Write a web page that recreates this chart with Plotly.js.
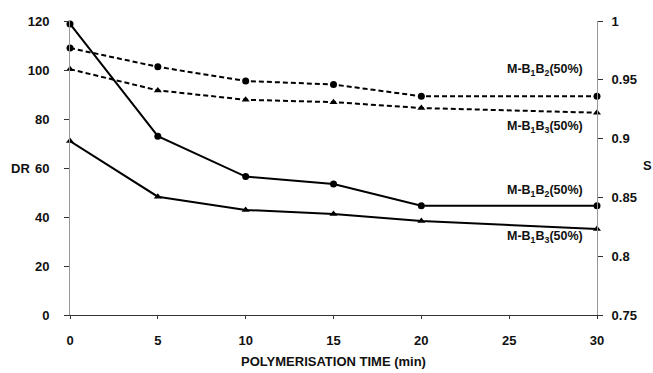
<!DOCTYPE html>
<html>
<head>
<meta charset="utf-8">
<script src="https://cdn.plot.ly/plotly-3.0.1.min.js"></script>
<style>html,body{margin:0;padding:0;background:#fff;}#chart{width:653px;height:373px;}</style>
</head>
<body>
<div id="chart"></div>
<script>
// Polymerisation time (min)
const timeMin = [0, 5, 10, 15, 20, 30];
// DR (left axis, solid lines)
const drB1B2 = [118.8, 73, 56.5, 53.5, 44.6, 44.6];
const drB1B3 = [71, 48.3, 42.9, 41.2, 38.4, 35.1];
// S (right axis, dashed lines)
const sB1B2 = [0.977, 0.961, 0.949, 0.946, 0.936, 0.936];
const sB1B3 = [0.959, 0.941, 0.933, 0.931, 0.926, 0.922];
const xTicks = [0, 5, 10, 15, 20, 25, 30];
const yTicksLeft = [0, 20, 40, 60, 80, 100, 120];
const yTicksRight = [0.75, 0.8, 0.85, 0.9, 0.95, 1];
const labelB1B2 = 'M-B<sub>1</sub>B<sub>2</sub>(50%)';
const labelB1B3 = 'M-B<sub>1</sub>B<sub>3</sub>(50%)';

const fam = 'Liberation Sans, Arial, sans-serif';
const tickFnt = {family: fam, size: 13, color: '#111', weight: 'bold'};
const annFnt = {family: fam, size: 12.5, color: '#111', weight: 'bold'};
const titleFnt = {family: fam, size: 13, color: '#111', weight: 'bold'};

const traces = [
  {x: timeMin, y: drB1B2, mode: 'lines+markers', line: {color: '#000', width: 2},
   marker: {symbol: 'circle', size: 7, color: '#000'}, cliponaxis: false, yaxis: 'y'},
  {x: timeMin, y: drB1B3, mode: 'lines+markers', line: {color: '#000', width: 2},
   marker: {symbol: 'triangle-up', size: 7, color: '#000'}, cliponaxis: false, yaxis: 'y'},
  {x: timeMin, y: sB1B2, mode: 'lines+markers', line: {color: '#000', width: 2, dash: '5px,3px'},
   marker: {symbol: 'circle', size: 7, color: '#000'}, cliponaxis: false, yaxis: 'y2'},
  {x: timeMin, y: sB1B3, mode: 'lines+markers', line: {color: '#000', width: 2, dash: '5px,3px'},
   marker: {symbol: 'triangle-up', size: 7, color: '#000'}, cliponaxis: false, yaxis: 'y2'}
];

const ann = (txt, yv) => ({x: 30, y: yv, xref: 'x', yref: 'y', text: txt, showarrow: false,
  xanchor: 'right', yanchor: 'middle', xshift: -12, font: annFnt});

const layout = {
  width: 653, height: 373,
  margin: {l: 70, r: 56, t: 21, b: 58},
  paper_bgcolor: '#fff', plot_bgcolor: '#fff',
  showlegend: false,
  font: tickFnt,
  xaxis: {range: [0, 30], tickvals: xTicks, ticktext: xTicks.map(String),
    showgrid: false, zeroline: false, showline: true, linecolor: '#333', linewidth: 1,
    ticks: 'outside', ticklen: 3, tickcolor: '#333', tickfont: tickFnt, ticklabelstandoff: 10,
    title: {text: 'POLYMERISATION TIME (min)', font: titleFnt, standoff: 10}},
  yaxis: {range: [0, 120], tickvals: yTicksLeft, showgrid: false, zeroline: false,
    showline: true, linecolor: '#999', linewidth: 1, ticks: 'outside', ticklen: 5, tickcolor: '#333',
    tickfont: tickFnt, ticklabelstandoff: 12, title: {text: ''}},
  yaxis2: {range: [0.75, 1], tickvals: yTicksRight, ticktext: ['0.75','0.8','0.85','0.9','0.95','1'],
    overlaying: 'y', side: 'right', showgrid: false, zeroline: false,
    showline: true, linecolor: '#999', linewidth: 1, ticks: 'outside', ticklen: 5, tickcolor: '#333',
    tickfont: tickFnt, ticklabelstandoff: 6, title: {text: ''}},
  annotations: [
    ann(labelB1B2, 100), ann(labelB1B3, 76.7), ann(labelB1B2, 50.6), ann(labelB1B3, 31.8),
    {x: 0, xref: 'paper', xanchor: 'right', xshift: -38, y: 60, yref: 'y', text: 'DR', showarrow: false, font: tickFnt},
    {x: 1, xref: 'paper', xanchor: 'left', xshift: 44, y: 61, yref: 'y', text: 'S', showarrow: false, font: tickFnt}
  ]
};

Plotly.newPlot('chart', traces, layout, {displayModeBar: false, staticPlot: true});
</script>
</body>
</html>
